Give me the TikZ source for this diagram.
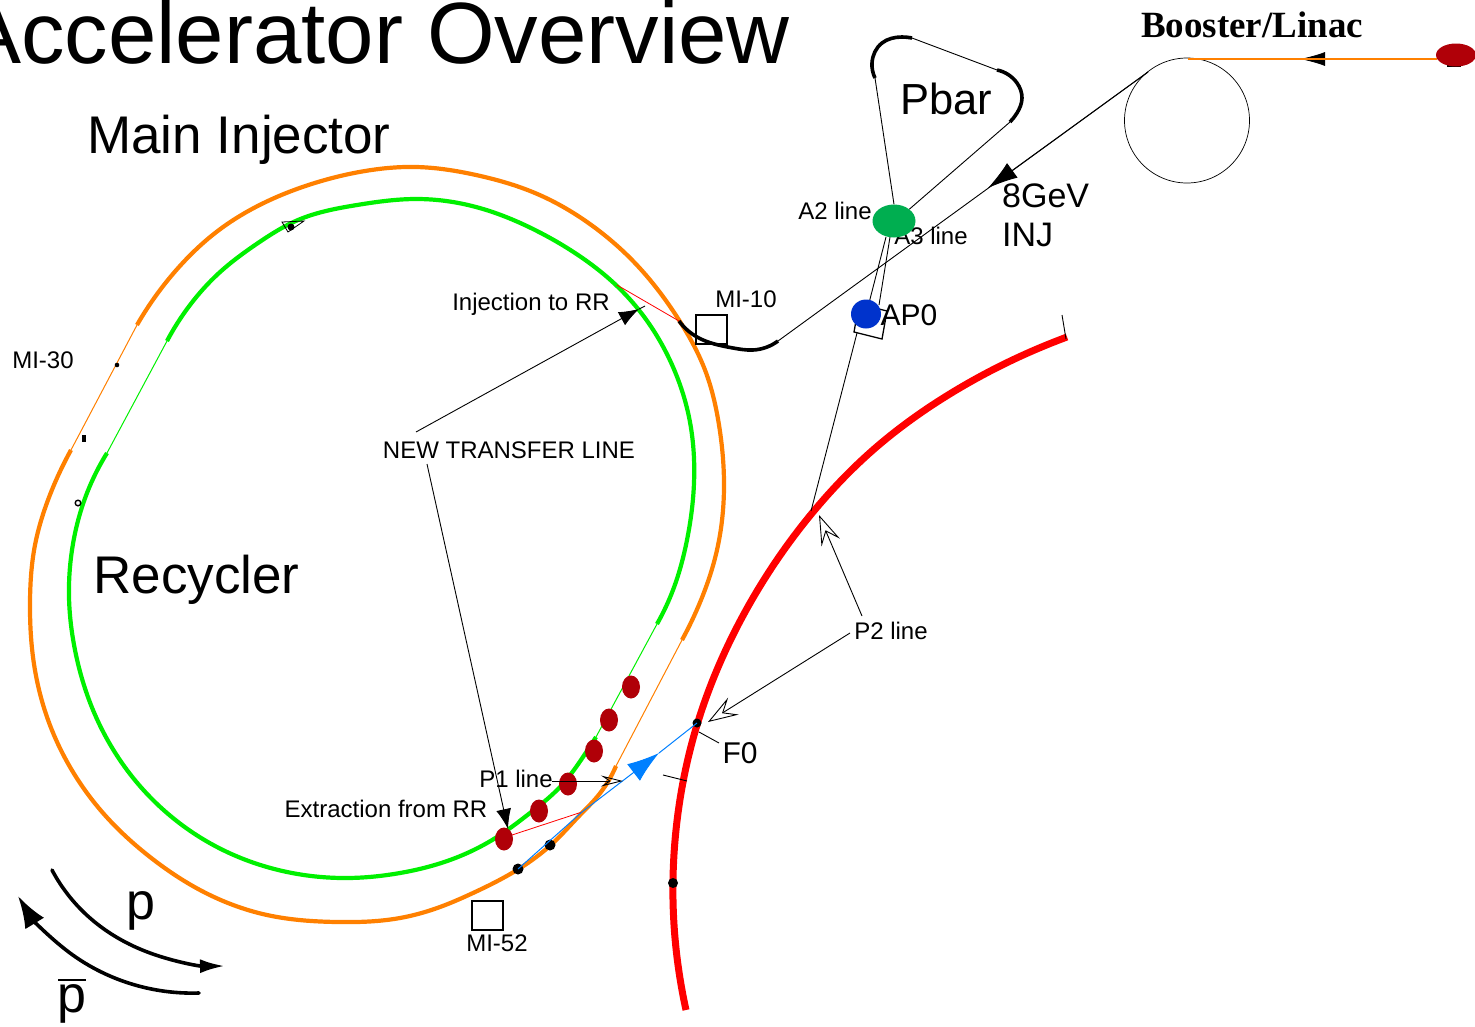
\documentclass[tikz,border=0pt]{standalone}
\usepackage{fontspec}
\setmainfont{Liberation Sans}
\newfontfamily\serifbold{Liberation Serif}
\usetikzlibrary{arrows.meta,shapes.geometric,hobby}
\newcommand{\fs}[1]{\fontsize{#1pt}{#1pt}\selectfont}
\definecolor{miorange}{HTML}{FF8000}
\definecolor{rrgreen}{HTML}{00F000}
\definecolor{bunch}{HTML}{B00008}
\definecolor{beamblue}{HTML}{0080FF}
\definecolor{ptgreen}{HTML}{00AE50}
\definecolor{apblue}{HTML}{0033CC}
\tikzset{
  lbl/.style={inner sep=0pt,anchor=base,text=black},
  orangethick/.style={draw=miorange,line width=4.2pt,line join=round,use Hobby shortcut},
  orangethin/.style={draw=miorange,line width=1pt},
  greenthick/.style={draw=rrgreen,line width=4.2pt,line join=round,use Hobby shortcut},
  greenthin/.style={draw=rrgreen,line width=1pt},
  thinblack/.style={draw=black,line width=0.9pt},
  thickblack/.style={draw=black,line width=3.6pt,use Hobby shortcut},
  bigline/.style={draw=black,line width=3.6pt,line cap=round,use Hobby shortcut},
  box/.style={draw=black,line width=1.3pt,minimum width=31pt,minimum height=29pt,inner sep=0pt},
  bunchdot/.style={ellipse,fill=bunch,minimum width=18pt,minimum height=23pt,inner sep=0pt},
  solidtip/.style={-{Latex[length=20pt,width=15pt]}},
  gevarrow/.style={-{Latex[length=30pt,width=18pt]}},
  opentip/.style={-{Stealth[open,length=30pt,width=20pt,inset=12pt]}},
  smalltip/.style={-{Stealth[open,length=22pt,width=11pt,inset=8pt]}},
}
\begin{document}
\begin{tikzpicture}[x=1pt,y=-1pt]
\useasboundingbox (0,0) rectangle (1475,1026);
\clip (0,0) rectangle (1475,1026);
\fill[white] (0,0) rectangle (1475,1026);

% titles
\node[lbl,anchor=base east] (title) at (790,63) {\fs{87}Accelerator Overview};
\node[lbl] (mi) at (239,153) {\fs{53}Main Injector};
\node[lbl] (rec) at (196.5,593) {\fs{53}Recycler};
\node[lbl] (pbarl) at (946.5,114) {\fs{43.5}Pbar};
\node[lbl] (boost) at (1252,37) {\serifbold\fs{37}\bfseries Booster/Linac};
\node[lbl,anchor=base west] (gev) at (1002,207) {\fs{34}8GeV};
\node[lbl,anchor=base west] (inj) at (1002,246) {\fs{34}INJ};
\node[lbl] (f0) at (740,763) {\fs{30}F0};
\node[lbl] (a2) at (835,219) {\fs{24}A2 line};
\node[lbl] (a3) at (931,244) {\fs{24}A3 line};
\node[lbl] (m10) at (746,307) {\fs{24}MI-10};
\node[lbl] (m30) at (43,368) {\fs{24}MI-30};
\node[lbl] (inrr) at (531,310) {\fs{24}Injection to RR};
\node[lbl] (ntl) at (509,458) {\fs{24}NEW TRANSFER LINE};
\node[lbl] (p2) at (891,639) {\fs{24}P2 line};
\node[lbl] (p1) at (516,787) {\fs{24}P1 line};
\node[lbl] (exrr) at (386,817) {\fs{24}Extraction from RR};
\node[lbl] (m52) at (497,951) {\fs{24}MI-52};
\node[lbl] (pl) at (141,919) {\fs{52}p};
\node[lbl] (pb) at (72,1012) {\fs{52}p};
\draw[line width=2pt] (58,980) -- (86,980);

% Main Injector (orange)
\draw[orangethick] (616,766) .. (597,797) .. (580,815) .. (553,843) .. (512,873) .. (473,893) .. (440,907) .. (400,918) .. (337,922) .. (267,915) .. (200,890) .. (150,857) .. (103,813) .. (70,767) .. (47,717) .. (33,657) .. (30,603) .. (35,545) .. (48,500) .. (71,450);
\draw[orangethin] (71,450) -- (137,325);
\draw[orangethick] (137,325) .. (179,267) .. (219,230) .. (270,200) .. (318,182) .. (365,171) .. (416,167) .. (476,175) .. (535,193) .. (594,227) .. (634,262) .. (679,320) .. (705,370) .. (719,425) .. (724,483) .. (717,550) .. (701,600) .. (682,640);
\draw[orangethin] (682,640) -- (616,766);

% Recycler (green)
\draw[greenthick] (657,624) .. (673,590) .. (687,540) .. (694,483) .. (689,417) .. (673,367) .. (645,318) .. (618,287) .. (575,253) .. (535,230) .. (476,207) .. (416,199) .. (357,205) .. (298,220) .. (258,243) .. (219,273) .. (190,305) .. (167,341);
\draw[greenthin] (167,341) -- (107,453);
\draw[greenthick] (107,453) .. (87,493) .. (72,550) .. (69,597) .. (75,650) .. (93,710) .. (127,770) .. (167,813) .. (217,847) .. (267,867) .. (347,878) .. (400,873) .. (450,860) .. (497,837) .. (530,813) .. (560,787) .. (583,757) .. (596,737);
\draw[greenthin] (596,737) -- (657,624);

% Tevatron segment (red)
\draw[draw=red,line width=7pt,use Hobby shortcut] (1067,337) .. (953,392) .. (873,450) .. (813,512) .. (745,612) .. (697,725) .. (676,830) .. (673,900) .. (686,1010);
\draw[thinblack] (1062,315) -- (1066,339);

% small marks
\fill (117,365) circle (2.3);
\fill (82,435) rectangle (86,442);
\draw[line width=1.4pt] (78,503) circle (2.8);
\fill (673,883) circle (5);
\coordinate (d52a) at (518,869);
\coordinate (d52b) at (550,845);
\coordinate (df0) at (697,723);
\fill (d52a) circle (5.5);
\fill (d52b) circle (5.5);
\fill (df0) circle (4.5);
\draw[line width=.8pt] (282,222) -- (304,221) -- (288,232) -- cycle;
\fill (291,227) circle (3.5);

% Booster and Linac
\node[draw=black,line width=0.7pt,circle,minimum size=125pt,inner sep=0pt] (booster) at (1187,120.5) {};
\fill (1447,63) rectangle (1461,67);
\node[ellipse,fill=bunch,minimum width=40pt,minimum height=23pt,inner sep=0pt] (linac) at (1456,55) {};
\coordinate (bt) at (1188,59);
\coordinate (la) at (1300,59);
\coordinate (lb) at (1326,59);
\coordinate (lc) at (1437,59);
\draw[-{Latex[length=25pt,width=14pt]},black,line width=.8pt] (lb) -- (la);
\draw[miorange,line width=1.2pt] (lc) -- (bt);

% MI-10 and 8 GeV line
\node[box] (b10) at (711.5,329.5) {};
\node[box] (b52) at (487.5,915.5) {};
\coordinate (mc0) at (679,321);
\coordinate (mc1) at (778,341);
\coordinate (bl) at (1148,72);
\coordinate (gevtip) at (988,188);
\draw[thickblack] (mc0) .. (697,337) .. (733,348) .. (753,350) .. (mc1);
\draw[thinblack] (mc1) -- (bl);
\draw[thinblack,gevarrow] (bl) -- (gevtip);

% Pbar
\coordinate (pa) at (875,78);
\coordinate (pb1) at (912,38);
\coordinate (pc) at (997,70);
\coordinate (pd) at (1010,122);
\node[ellipse,fill=ptgreen,minimum width=43pt,minimum height=33pt,inner sep=0pt] (target) at (894,221) {};
\draw[thickblack] (pa) .. (872,63) .. (882,43) .. (902,37) .. (pb1);
\draw[thickblack] (pc) .. (1017,83) .. (1022,98) .. (1017,113) .. (pd);
\draw[thinblack] (target.north) -- (pa);
\draw[thinblack] (pb1) -- (pc);
\draw[thinblack] (pd) -- (target.north east);

% AP0
\coordinate (sq1) at (854,332);
\coordinate (sq2) at (882,339);
\coordinate (sq3) at (887,311);
\coordinate (sq4) at (859,304);
\draw[line width=1.3pt] (sq1) -- (sq2) -- (sq3) -- (sq4) -- cycle;
\coordinate (ta) at (886,237);
\coordinate (tb) at (890,237);
\coordinate (ua) at (869,303);
\coordinate (ub) at (879,305);
\draw[thinblack] (ta) -- (ua);
\draw[thinblack] (tb) -- (ub);
\coordinate (pj) at (811,511);
\coordinate (ps) at (857,333);
\draw[thinblack] (ps) -- (pj);
\node[ellipse,fill=apblue,minimum width=30pt,minimum height=29pt,inner sep=0pt] (ap0) at (866,314) {};
\node[lbl] (ap) at (909,325) {\fs{30}AP0};

% transfer lines
\coordinate (inj0) at (617,285);
\draw[red,line width=.8pt] (inj0) -- (mc0);
\coordinate (ex0) at (512,835);
\coordinate (ex1) at (582,812);
\draw[red,line width=.8pt] (ex0) -- (ex1);

% blue line and arrow
\coordinate (bluetip) at (659,753);
\draw[beamblue,line width=1pt] (bluetip) -- (df0);
\draw[-{Latex[length=32pt,width=21pt]},beamblue,line width=1pt] (d52a) -- (ex1) -- (bluetip);

% bunches
\node[bunchdot] (r1) at (631,687) {};
\node[bunchdot] (r2) at (609,720) {};
\node[bunchdot] (r3) at (594,751) {};
\node[bunchdot] (r4) at (568,784) {};
\node[bunchdot] (r5) at (539,811) {};
\node[bunchdot] (r6) at (504,839) {};

% annotation arrows
\coordinate (ntla) at (416,432);
\coordinate (ntlb) at (427,464);
\coordinate (injtip) at (639,309);
\coordinate (injend) at (645,306);
\coordinate (extip) at (508,829);
\draw[thinblack,solidtip] (ntla) -- (injtip);
\draw[thinblack] (injtip) -- (injend);
\draw[thinblack,solidtip] (ntlb) -- (extip);
\coordinate (p1s) at (552,781);
\coordinate (p1e) at (623,781);
\draw[thinblack,smalltip] (p1s) -- (p1e);
\coordinate (p2a) at (850,633);
\coordinate (p2b) at (862,616);
\coordinate (p2atip) at (708,722);
\coordinate (p2btip) at (819,515);
\draw[thinblack,opentip] (p2a) -- (p2atip);
\draw[thinblack,opentip] (p2b) -- (p2btip);
\coordinate (f0a) at (719,743);
\coordinate (f0b) at (699,732);
\draw[thinblack] (f0a) -- (f0b);
\coordinate (ta1) at (663,775);
\coordinate (ta2) at (687,781);
\draw[thinblack] (ta1) -- (ta2);

% direction arrows
\draw[bigline,-{Latex[length=25pt,width=14pt]}] (52,870) .. (90,918) .. (150,953) .. (225,966);
\draw[bigline,-{Latex[length=32pt,width=22pt]}] (199,993) .. (135,985) .. (70,953) .. (18,896);
\end{tikzpicture}
\end{document}
